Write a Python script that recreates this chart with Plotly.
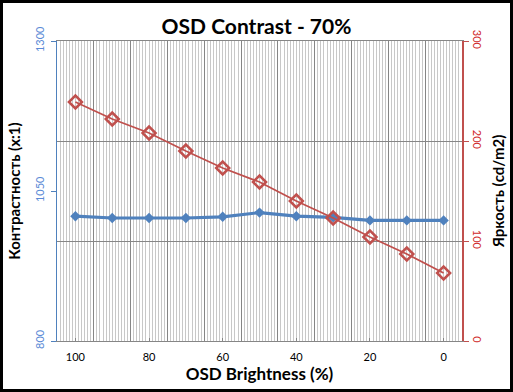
import plotly.graph_objects as go

categories = [100, 90, 80, 70, 60, 50, 40, 30, 20, 10, 0]
contrast = [1008, 1005, 1005, 1005, 1007, 1014, 1008, 1006, 1001, 1001, 1001]
luminance = [239, 222, 208, 190, 173, 159, 140, 123, 104, 87, 68]
x_tick_labels = [100, 80, 60, 40, 20, 0]
left_ticks = [800, 1050, 1300]
right_ticks = [0, 100, 200, 300]

BLUE = "#4f81bd"
RED = "#c0504d"
FONT = "Lato"

fig = go.Figure()
fig.add_trace(go.Scatter(
    x=categories, y=contrast, mode="lines+markers", yaxis="y", xaxis="x",
    line=dict(color=BLUE, width=3.2),
    marker=dict(symbol="diamond", size=8, color=BLUE),
    showlegend=False, cliponaxis=False))
fig.add_trace(go.Scatter(
    x=categories, y=luminance, mode="lines+markers", yaxis="y2", xaxis="x2",
    line=dict(color=RED, width=1.8),
    marker=dict(symbol="diamond-open", size=10, color=RED, line=dict(width=2.5, color=RED)),
    showlegend=False, cliponaxis=False))

W, H = 513, 392
L, R, T, B = 57, 51, 41, 51
pw, ph = W - L - R, H - T - B

fig.update_layout(
    width=W, height=H,
    margin=dict(l=L, r=R, t=T, b=B, autoexpand=False),
    paper_bgcolor="white", plot_bgcolor="white",
    font=dict(family=FONT, color="black"),
    title=dict(text="<b>OSD Contrast - 70%</b>", x=0.5, xanchor="center",
               y=1 - 27 / H, yanchor="middle", font=dict(size=21, family=FONT)),
    xaxis=dict(
        range=[105, -5], tickmode="linear", tick0=5, dtick=10,
        showticklabels=False, ticks="",
        showgrid=True, gridcolor="#868686", gridwidth=1,
        minor=dict(tickmode="linear", tick0=5, dtick=10 / 12, showgrid=True,
                   gridcolor="#c8c8c8", gridwidth=1, ticks=""),
        showline=True, linecolor="#868686", linewidth=1, mirror=True,
        zeroline=False,
    ),
    xaxis2=dict(
        overlaying="x", side="bottom", range=[105, -5],
        tickmode="array", tickvals=x_tick_labels, ticktext=[str(v) for v in x_tick_labels],
        ticks="inside", ticklen=3, tickcolor="#868686",
        ticklabelstandoff=8,
        showgrid=False, zeroline=False, showline=False,
        tickfont=dict(size=11, color="black", family=FONT),
        title=dict(text="<b>OSD Brightness (%)</b>", font=dict(size=17, family=FONT), standoff=4),
    ),
    yaxis=dict(
        range=[800, 1300], tickmode="array", tickvals=left_ticks,
        tickangle=-90, ticks="outside", ticklen=5, tickcolor=BLUE,
        ticklabelstandoff=3,
        tickfont=dict(size=11, color="#5b8ad6", family=FONT),
        showgrid=False, zeroline=False,
        showline=True, linecolor=BLUE, linewidth=1,
        title=dict(text="<b>Контрастность (x:1)</b>", font=dict(size=15, family=FONT), standoff=8),
    ),
    yaxis2=dict(
        range=[0, 300], tickmode="array", tickvals=right_ticks,
        overlaying="y", side="right",
        tickangle=90, ticks="outside", ticklen=5, tickcolor=RED,
        tickfont=dict(size=11, color="#d02a2a", family=FONT),
        showgrid=True, gridcolor="#868686", gridwidth=1, zeroline=False,
        showline=True, linecolor=RED, linewidth=1.5,
        title=dict(text="<b>Яркость (cd/m2)</b>", font=dict(size=15, family=FONT), standoff=10),
    ),
    shapes=[dict(
        type="rect", xref="paper", yref="paper",
        x0=(1.5 - L) / pw, x1=(W - 1.5 - L) / pw,
        y0=-(B - 1.5) / ph, y1=1 + (T - 1.5) / ph,
        line=dict(color="black", width=3), fillcolor="rgba(0,0,0,0)", layer="above")],
)

fig.write_html("out.html", config={"displayModeBar": False},
               post_script="document.body.style.margin='0';")
